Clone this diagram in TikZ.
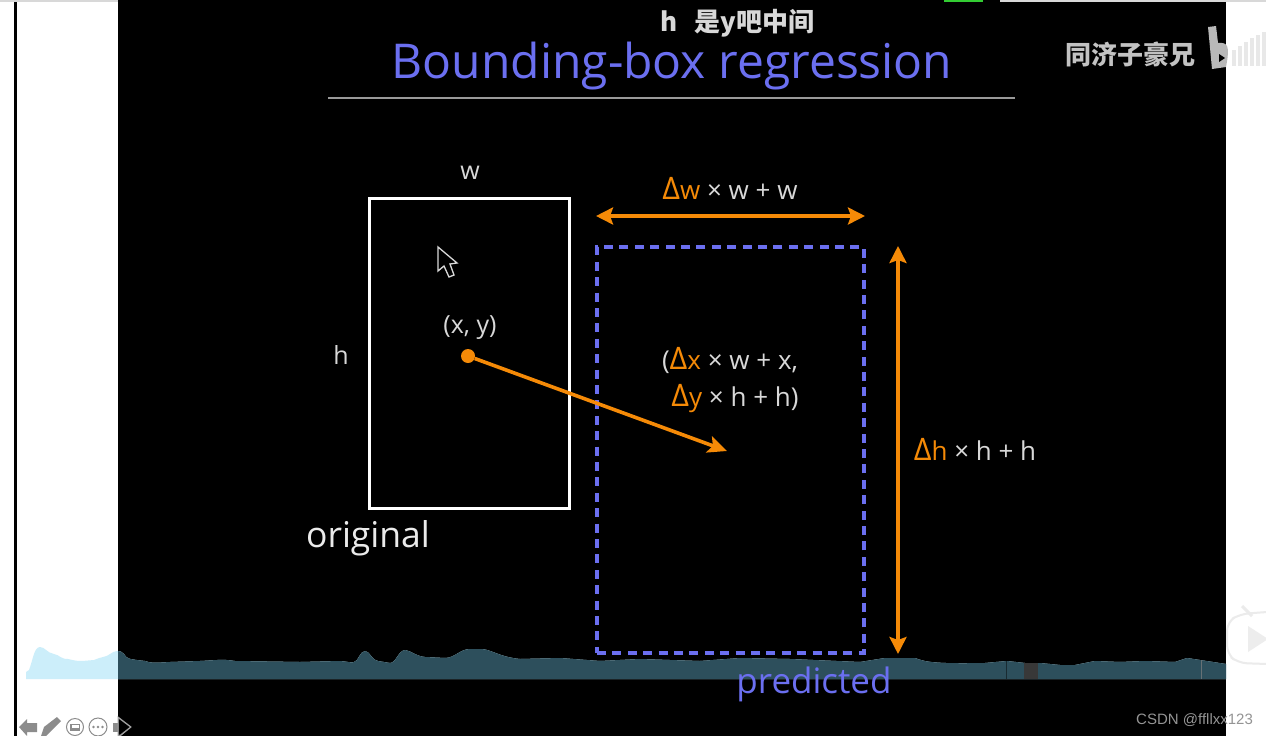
\documentclass[tikz,border=0pt]{standalone}
\usepackage{fontspec}
\setmainfont{Open Sans}
\newfontfamily\cjk{Noto Sans CJK SC}
\newfontfamily\lib{Liberation Sans}
\usetikzlibrary{arrows.meta}
\definecolor{org}{HTML}{F58A07}
\definecolor{blu}{HTML}{6B6FF0}
\definecolor{lite}{HTML}{D8D8D8}
\definecolor{wavedark}{HTML}{2D4F5C}
\definecolor{wavelite}{HTML}{CCEEFA}
\definecolor{icon}{HTML}{8C8C8C}
\newcommand{\fsz}[1]{\fontsize{#1}{#1}\selectfont}
\newcommand{\dl}[2]{\textcolor{org}{{\fontsize{31}{31}\selectfont Δ}#1}#2}
\tikzset{
  lab/.style={text=lite,inner sep=0pt,font=\fsz{25}},
  orgarrow/.style={draw=org,line width=3.6pt,{Stealth[length=17pt,width=17pt,inset=3pt]}-{Stealth[length=17pt,width=17pt,inset=3pt]}},
  iconline/.style={draw=icon,line width=1pt,fill=white},
}
\begin{document}
\begin{tikzpicture}[x=1pt,y=-1pt]
\useasboundingbox (0,0) rectangle (1266,736);
\fill[white] (0,0) rectangle (1266,736);
\fill[black] (118,2) rectangle (1226,736);
\fill[black] (14,2) rectangle (16.5,736);
\fill[lite] (0,0) rectangle (1266,2);
\fill[black] (118,0) rectangle (944,2);
\fill[green!75!black!80!white] (944,0) rectangle (983,2);
\fill[black] (983,0) rectangle (1000,2);
% waveform
\def\wave{(26,679) -- (26,672) -- (29,670) .. controls (33,660) and (34,647) .. (40,647) .. controls (45,647) and (47,653) .. (54,654) .. controls (60,655) and (60,659) .. (68,659) .. controls (73,660) and (75,661) .. (82,661) -- (94,660) .. controls (100,657) and (107,657) .. (110,654) .. controls (114,651) and (120,649) .. (124,654) .. controls (127,659) and (128,659) .. (145,661) .. controls (150,663) and (155,663) .. (170,662) -- (200,661) .. controls (220,660) and (222,659) .. (235,661) -- (300,662) -- (340,661) .. controls (350,662) and (352,663) .. (354,662) .. controls (358,662) and (360,651) .. (365,651) .. controls (370,651) and (372,661) .. (378,661) -- (390,663) .. controls (396,663) and (398,651) .. (405,650) .. controls (412,651) and (415,656) .. (425,657) -- (445,658) .. controls (455,658) and (460,649) .. (470,649) -- (482,649) .. controls (492,650) and (500,657) .. (520,659) -- (560,658) -- (600,661) -- (640,659) -- (700,661) -- (740,658) -- (790,659) -- (860,662) -- (885,658) -- (915,658) .. controls (925,662) and (935,664) .. (985,663) -- (1007,661) -- (1025,663) -- (1040,663) -- (1060,665) -- (1075,665) -- (1095,661) -- (1120,662) -- (1145,661) -- (1175,662) -- (1187,658) -- (1200,660) -- (1226,664) -- (1226,679) -- cycle}
\fill[wavelite] \wave;
\begin{scope}
\clip (118,0) rectangle (1226,736);
\fill[wavedark] \wave;
\end{scope}
\fill[black!78] (1024,663) rectangle (1038,679);
\fill[black!45!wavedark] (1006,661) rectangle (1007,679);
\fill[gray!70!wavedark] (1201,660) rectangle (1202,679);
% title
\node[inner sep=0pt,text=blu,font=\fsz{48}] (title) at (672,66) {Bounding-box regression};
\node[inner sep=0pt,text=lite,font=\cjk\bfseries\fsz{26}] (note) at (737.5,23) {h\hspace{17pt}是y吧中间};
\coordinate (ruleL) at (328,98);
\coordinate (ruleR) at (1015,98);
\draw[gray!80!white,line width=1.6pt] (ruleL) -- (ruleR);
% watermark
\node[inner sep=0pt,text=lite!90!black,font=\cjk\bfseries\fsz{26}] (wm) at (1130,54) {同济子豪兄};
\fill[lite!85!black] (1208,27) -- (1216,26) -- (1218,43) .. controls (1228,42) and (1230,46) .. (1226,67) -- (1212,69) -- cycle;
\fill[black] (1219,54) -- (1225,58) -- (1219,62) -- cycle;
\foreach \x/\h in {1232/16,1238/20,1244/24,1250/28,1256/31,1262/34}
  \fill[gray!18] (\x,66-\h) rectangle (\x+3.5,66);
% original box
\node[draw=white,line width=3pt,outer sep=0pt,minimum width=200pt,minimum height=310pt,inner sep=0pt,anchor=north west] (orig) at (369.5,198) {};
\node[lab] (w) at (470,173) {w};
\node[lab] (h) at (341,355) {h};
\node[lab] (xy) at (470,328) {(x, y)};
\node[inner sep=0pt,text=white!92!black,font=\fsz{35.5}] (origlab) at (368,538) {original};
% cursor
\draw[white!85!black,line width=1.3pt,fill=black] (438,247) -- (438,271) -- (444,266) -- (449,277) -- (454,275) -- (450,264) -- (457,263) -- cycle;
% predicted box
\node[draw=blu,line width=4.6pt,outer sep=0pt,dash pattern=on 9pt off 6.4pt,minimum width=267pt,minimum height=406pt,inner sep=0pt,anchor=north west] (pred) at (597,247) {};
\node[inner sep=0pt,text=blu,font=\fsz{35}] (predlab) at (814,684) {predicted};
% arrows
\coordinate (wL) at (596,216);
\coordinate (wR) at (865,216);
\draw[orgarrow] (wL) -- (wR);
\coordinate (hT) at (898,246);
\coordinate (hB) at (898,654);
\draw[orgarrow] (hT) -- (hB);
\node[circle,fill=org,minimum size=14pt,inner sep=0pt] (dot) at (468,356) {};
\coordinate (tip) at (727,451);
\draw[draw=org,line width=3.6pt,-{Stealth[length=19pt,width=17pt,inset=4pt]}] (dot) -- (tip);
% labels
\node[lab,font=\fsz{26}] (wlab) at (730,188) {\dl{w}{ × w + w}};
\node[lab,font=\fsz{26}] (hlab) at (975,449) {\dl{h}{ × h + h}};
\node[lab,font=\fsz{26}] (dx) at (730,360) {(\dl{x}{ × w + x,}};
\node[lab,font=\fsz{26}] (dy) at (735,399) {\dl{y}{ × h + h)}};
% controls
\fill[icon] (19,727) -- (27,719) -- (27,723) -- (37,723) -- (37,732) -- (27,732) -- (27,736) -- cycle;
\fill[icon] (41,736) -- (44,727) -- (57,717) -- (61,721) -- (49,733) -- (46,736) -- cycle;
\node[circle,iconline,minimum size=17pt,inner sep=0pt] (b1) at (75,727) {};
\fill[icon] (70,723.5) rectangle (80,731);
\fill[white] (71.5,725) rectangle (78.5,728);
\node[circle,iconline,minimum size=18pt,inner sep=0pt] (b2) at (98,727) {};
\foreach \x in {93.5,98,102.5} \fill[icon] (\x,727) circle (1.3pt);
\fill[icon] (113,723) rectangle (120,732);
\draw[draw=icon!80!white,line width=1pt,fill=icon] (118,717) -- (131,727) -- (120,736) -- (118,736) -- cycle;
\fill[black] (118.8,719) -- (129.5,727) -- (120,734.5) -- (118.8,734.5) -- cycle;
% tv icon
\draw[black!8,line width=2pt,fill=white,rounded corners=9pt] (1267,612) -- (1240,614) -- (1227,622) -- (1227,654) -- (1238,663) -- (1267,664);
\draw[black!8,line width=3pt] (1242,606) -- (1252,616);
\fill[black!7] (1248,626) -- (1268,639) -- (1248,652) -- cycle;
% csdn
\node[inner sep=0pt,anchor=west,text=black!42,font=\lib\fsz{15}] (csdn) at (1136,720) {CSDN @ffllxx123};
\end{tikzpicture}
\end{document}
